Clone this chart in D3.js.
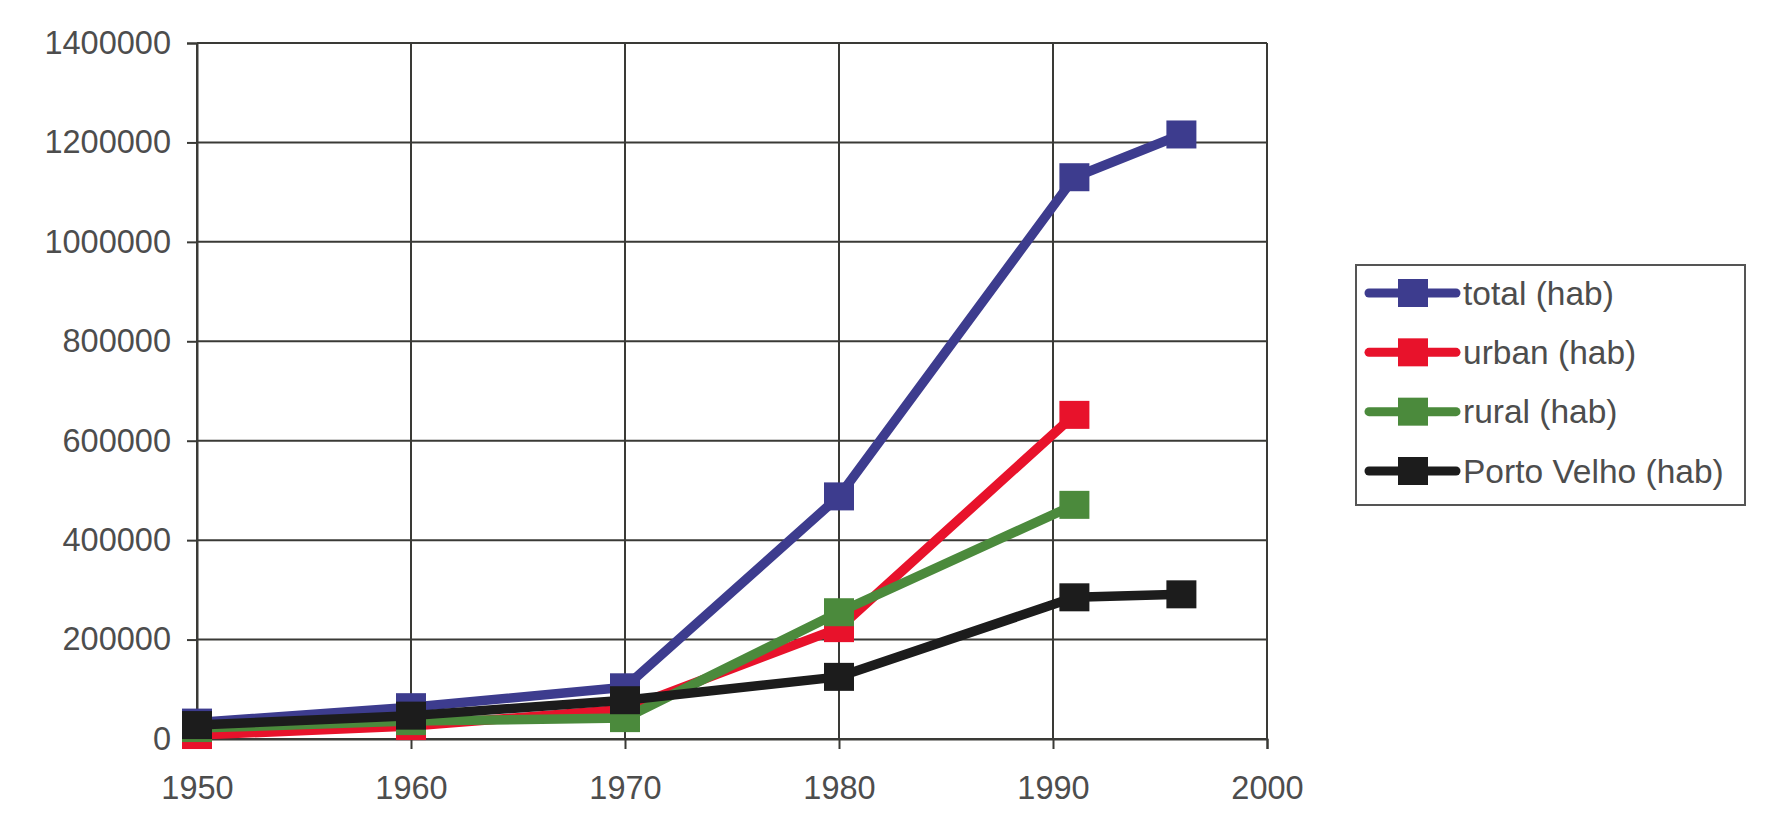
<!DOCTYPE html>
<html>
<head>
<meta charset="utf-8">
<script src="https://cdn.jsdelivr.net/npm/d3@7"></script>
<style>
  body { margin: 0; background: #fff; }
  text { font-family: "Liberation Sans", Arial, sans-serif; }
</style>
</head>
<body>
<script>
// données
const yearsTotal = [1950, 1960, 1970, 1980, 1991, 1996];
const total = [33000, 64000, 104000, 488000, 1130000, 1216000];

const yearsUrban = [1950, 1960, 1970, 1980, 1991];
const urban = [8000, 26000, 60000, 223000, 652000];

const yearsRural = [1950, 1960, 1970, 1980, 1991];
const rural = [22000, 36000, 42000, 255000, 471000];

const yearsPV = [1950, 1960, 1970, 1980, 1991, 1996];
const portoVelho = [28000, 47000, 78000, 125000, 285000, 291000];

const seriesNames = ["total (hab)", "urban (hab)", "rural (hab)", "Porto Velho (hab)"];
const seriesColors = ["#3d3c8e", "#e8122b", "#4b8a3c", "#1c1c1c"];

const xTicks = [1950, 1960, 1970, 1980, 1990, 2000];
const yTicks = [0, 200000, 400000, 600000, 800000, 1000000, 1200000, 1400000];

const series = [
    { name: seriesNames[0], color: seriesColors[0], values: yearsTotal.map((yr, i) => ({ year: yr, v: total[i] })) },
    { name: seriesNames[1], color: seriesColors[1], values: yearsUrban.map((yr, i) => ({ year: yr, v: urban[i] })) },
    { name: seriesNames[2], color: seriesColors[2], values: yearsRural.map((yr, i) => ({ year: yr, v: rural[i] })) },
    { name: seriesNames[3], color: seriesColors[3], values: yearsPV.map((yr, i) => ({ year: yr, v: portoVelho[i] })) }
];

// dimensions
const W = 1781, H = 837;
const plotLeft = 197, plotRight = 1267, plotTop = 43, plotBottom = 739;

const x = d3.scaleLinear().domain([1950, 2000]).range([plotLeft, plotRight]);
const y = d3.scaleLinear().domain([0, 1400000]).range([plotBottom, plotTop]);

const svg = d3.select("body").append("svg")
    .attr("width", W)
    .attr("height", H);

svg.append("rect").attr("width", W).attr("height", H).attr("fill", "#fff");

// grille
svg.append("g")
    .selectAll("line")
    .data(yTicks)
    .enter()
    .append("line")
    .attr("x1", plotLeft).attr("x2", plotRight)
    .attr("y1", d => y(d)).attr("y2", d => y(d))
    .attr("stroke", "#3a3a36")
    .attr("stroke-width", 2);

svg.append("g")
    .selectAll("line")
    .data(xTicks)
    .enter()
    .append("line")
    .attr("x1", d => x(d)).attr("x2", d => x(d))
    .attr("y1", plotTop).attr("y2", plotBottom)
    .attr("stroke", "#3a3a36")
    .attr("stroke-width", 2);

// axes
const yAxis = svg.append("g")
    .attr("transform", "translate(" + plotLeft + ",0)")
    .call(d3.axisLeft(y).tickValues(yTicks).tickSize(10).tickPadding(16).tickFormat(d3.format("d")));

const xAxis = svg.append("g")
    .attr("transform", "translate(0," + plotBottom + ")")
    .call(d3.axisBottom(x).tickValues(xTicks).tickSize(10).tickPadding(27).tickFormat(d3.format("d")));

[yAxis, xAxis].forEach(a => {
    a.select(".domain").attr("stroke", "#3a3a36").attr("stroke-width", 2);
    a.selectAll(".tick line").attr("stroke", "#3a3a36").attr("stroke-width", 2);
    a.selectAll("text")
        .style("font-size", "32.5px")
        .style("font-family", "'Liberation Sans', Arial, sans-serif")
        .attr("fill", "#4d4d4d");
});

// lignes + marqueurs
const line = d3.line().x(d => x(d.year)).y(d => y(d.v));
const ms = 30, mh = 28;

series.forEach(s => {
    const g = svg.append("g");
    g.append("path")
        .datum(s.values)
        .attr("d", line)
        .attr("fill", "none")
        .attr("stroke", s.color)
        .attr("stroke-width", 9.5)
        .attr("stroke-linejoin", "round");
    g.selectAll("rect")
        .data(s.values)
        .enter()
        .append("rect")
        .attr("x", d => x(d.year) - ms / 2)
        .attr("y", d => y(d.v) - mh / 2)
        .attr("width", ms)
        .attr("height", mh)
        .attr("fill", s.color);
});

// légende
const lg = svg.append("g");
lg.append("rect")
    .attr("x", 1356).attr("y", 265)
    .attr("width", 389).attr("height", 240)
    .attr("fill", "#fff")
    .attr("stroke", "#555")
    .attr("stroke-width", 2);

const ly = d3.scalePoint().domain(seriesNames).range([293, 471]);

series.forEach(s => {
    const cy = ly(s.name);
    lg.append("line")
        .attr("x1", 1369).attr("x2", 1456)
        .attr("y1", cy).attr("y2", cy)
        .attr("stroke", s.color)
        .attr("stroke-width", 9)
        .attr("stroke-linecap", "round");
    lg.append("rect")
        .attr("x", 1398).attr("y", cy - 14)
        .attr("width", 30).attr("height", 28)
        .attr("fill", s.color);
    lg.append("text")
        .attr("x", 1463).attr("y", cy)
        .attr("dy", "0.35em")
        .style("font-size", "33.5px")
        .attr("fill", "#4d4d4d")
        .text(s.name);
});
</script>
</body>
</html>
